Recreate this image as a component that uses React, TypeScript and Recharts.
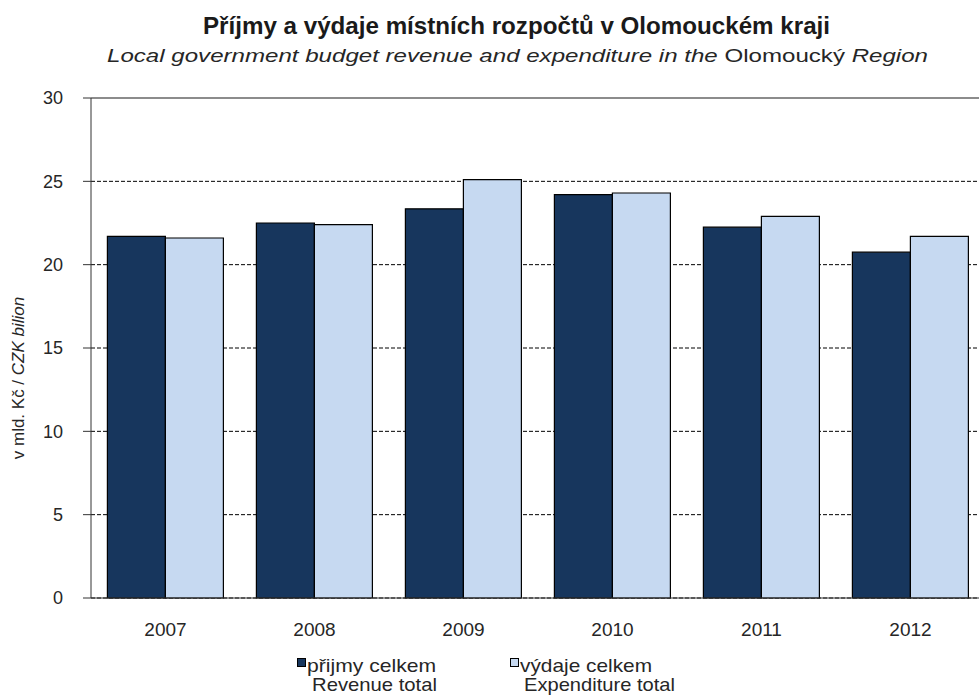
import { BarChart, Bar, XAxis, YAxis, CartesianGrid, ReferenceLine } from "recharts";

const years = ["2007", "2008", "2009", "2010", "2011", "2012"];
const revenue = [21.7, 22.5, 23.35, 24.2, 22.25, 20.75];
const expenditure = [21.6, 22.4, 25.1, 24.3, 22.9, 21.7];
const yTicks = [0, 5, 10, 15, 20, 25, 30];
const edgeTicks = [0, 1, 2, 3, 4, 5, 6];

const data = years.map((year, i) => ({
  year,
  revenue: revenue[i],
  expenditure: expenditure[i],
}));

const FONT = '"Liberation Sans", Arial, sans-serif';
const DARK = "#17365D";
const LIGHT = "#C6D9F1";
const TEXT = "#262626";

function Overlay() {
  return (
    <svg
      width={979}
      height={696}
      style={{ position: "absolute", left: 0, top: 0, pointerEvents: "none" }}
      fontFamily={FONT}
      fill={TEXT}
    >
      <text x={203} y={34} fontSize={24} fontWeight="bold" textLength={627} lengthAdjust="spacingAndGlyphs" fill="#1a1a1a">
        Příjmy a výdaje místních rozpočtů v Olomouckém kraji
      </text>
      <text x={107} y={62} fontSize={19} textLength={821} lengthAdjust="spacingAndGlyphs">
        <tspan fontStyle="italic">Local government budget revenue and expenditure in the </tspan>
        <tspan>Olomoucký </tspan>
        <tspan fontStyle="italic">Region</tspan>
      </text>
      <text transform="translate(24,378) rotate(-90)" textAnchor="middle" fontSize={17}>
        <tspan>v mld. Kč / </tspan>
        <tspan fontStyle="italic">CZK bilion</tspan>
      </text>

      <rect x={297.5} y={658.5} width={8} height={8} fill={DARK} stroke="#000" strokeWidth={1} />
      <text x={307} y={672} fontSize={19} textLength={129} lengthAdjust="spacingAndGlyphs">přijmy celkem</text>
      <text x={312} y={691} fontSize={19} textLength={125} lengthAdjust="spacingAndGlyphs">Revenue total</text>

      <rect x={510.5} y={658.5} width={8} height={8} fill={LIGHT} stroke="#000" strokeWidth={1} />
      <text x={520} y={672} fontSize={19} textLength={132} lengthAdjust="spacingAndGlyphs">výdaje celkem</text>
      <text x={524} y={691} fontSize={19} textLength={151} lengthAdjust="spacingAndGlyphs">Expenditure total</text>
    </svg>
  );
}

export default function App() {
  return (
    <div
      style={{
        position: "absolute",
        left: 0,
        top: 0,
        width: 979,
        height: 696,
        overflow: "hidden",
        background: "#fff",
      }}
    >
      <BarChart
        width={1000}
        height={696}
        data={data}
        margin={{ top: 98, right: 15, left: 0, bottom: 58 }}
        barCategoryGap="11%"
        barGap={0}
      >
        <CartesianGrid
          xAxisId="cat"
          vertical={false}
          stroke="#000"
          strokeDasharray="4 2"
        />
        <XAxis
          xAxisId="edge"
          type="number"
          domain={[0, 6]}
          ticks={edgeTicks}
          allowDataOverflow
          height={0}
          axisLine={false}
          tickSize={6}
          tickLine={{ stroke: "#333" }}
          tickFormatter={() => ""}
        />
        <XAxis
          xAxisId="cat"
          dataKey="year"
          height={40}
          tickLine={false}
          tickSize={6}
          tickMargin={19}
          axisLine={{ stroke: "#333" }}
          tick={{ fontSize: 19, fill: TEXT, fontFamily: FONT }}
        />
        <YAxis
          domain={[0, 30]}
          ticks={yTicks}
          width={91}
          tickSize={8}
          tickMargin={20}
          axisLine={{ stroke: "#333" }}
          tickLine={{ stroke: "#333" }}
          tick={{ fontSize: 18, fill: TEXT, fontFamily: FONT }}
        />
        <ReferenceLine xAxisId="cat" y={30} stroke="#8c8c8c" strokeWidth={2} />
        <Bar
          xAxisId="cat"
          dataKey="revenue"
          fill={DARK}
          stroke="#000"
          strokeWidth={1.2}
          isAnimationActive={false}
        />
        <Bar
          xAxisId="cat"
          dataKey="expenditure"
          fill={LIGHT}
          stroke="#000"
          strokeWidth={1.2}
          isAnimationActive={false}
        />
      </BarChart>
      <Overlay />
    </div>
  );
}
